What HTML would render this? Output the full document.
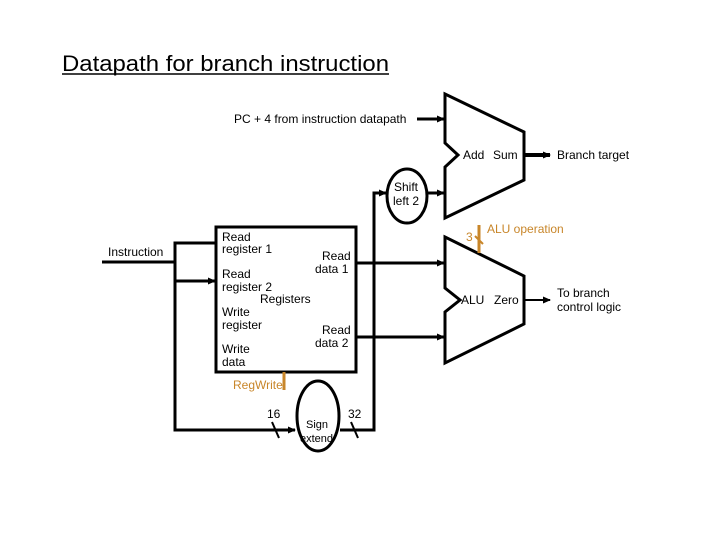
<!DOCTYPE html>
<html><head><style>body{margin:0;background:#fff}svg{display:block}text{font-family:"Liberation Sans",sans-serif;font-size:12px;fill:#000}.o{fill:#c8862a}</style></head><body>
<svg width="720" height="540" viewBox="0 0 720 540">
<defs><marker id="a" markerWidth="8" markerHeight="8" refX="7" refY="4" orient="auto" markerUnits="userSpaceOnUse"><path d="M0,0.5L8,4L0,7.5z" fill="#000"/></marker></defs>
<text x="62" y="71" style="font-size:22px" textLength="327" lengthAdjust="spacingAndGlyphs">Datapath for branch instruction</text>
<line x1="62" y1="74" x2="389" y2="74" stroke="#000" stroke-width="1.5"/>
<text x="234" y="123">PC + 4 from instruction datapath</text>
<g stroke="#000" stroke-width="3" fill="none">
<line x1="417" y1="119" x2="444" y2="119" marker-end="url(#a)"/>
<polygon points="445,94 524,132 524,180 445,218 445,167 458,155 445,143" fill="#fff"/>
<polygon points="445,237 524,276 524,324 445,363 445,312 460,300 445,288" fill="#fff"/>
<line x1="524" y1="155" x2="550" y2="155" stroke-width="4" marker-end="url(#a)"/>
<line x1="524" y1="300" x2="550" y2="300" stroke-width="2" marker-end="url(#a)"/>
<rect x="216" y="227" width="140" height="145" fill="#fff"/>
<line x1="102" y1="262" x2="175" y2="262"/>
<polyline points="215,243 175,243 175,430 295,430" marker-end="url(#a)"/>
<line x1="175" y1="281" x2="215" y2="281" marker-end="url(#a)"/>
<line x1="356" y1="263" x2="444" y2="263" marker-end="url(#a)"/>
<line x1="356" y1="337" x2="444" y2="337" marker-end="url(#a)"/>
<polyline points="340,430 374,430 374,193 386,193" marker-end="url(#a)"/>
<line x1="427" y1="193" x2="444" y2="193" marker-end="url(#a)"/>
<ellipse cx="407" cy="196" rx="20" ry="27" fill="#fff"/>
<ellipse cx="318" cy="416" rx="21" ry="35" fill="#fff"/>
<line x1="272" y1="422" x2="279" y2="438" stroke-width="2"/>
<line x1="351" y1="422" x2="358" y2="438" stroke-width="2"/>
</g>
<g stroke="#c8862a" stroke-width="3"><line x1="479" y1="225" x2="479" y2="253"/><line x1="284" y1="372" x2="284" y2="390"/><line x1="475" y1="236" x2="483" y2="244" stroke-width="2"/></g>
<text x="463" y="159">Add</text><text x="493" y="159">Sum</text>
<text x="557" y="159">Branch target</text>
<text x="394" y="191">Shift</text><text x="393" y="205">left 2</text>
<text x="466" y="241" class="o">3</text><text x="487" y="233" class="o">ALU operation</text>
<text x="461" y="304">ALU</text><text x="494" y="304">Zero</text>
<text x="557" y="297">To branch</text><text x="557" y="311">control logic</text>
<text x="108" y="256">Instruction</text>
<text x="222" y="241">Read</text><text x="222" y="253">register 1</text>
<text x="222" y="278">Read</text><text x="222" y="291">register 2</text>
<text x="260" y="303">Registers</text>
<text x="222" y="316">Write</text><text x="222" y="329">register</text>
<text x="222" y="353">Write</text><text x="222" y="366">data</text>
<text x="322" y="260">Read</text><text x="315" y="273">data 1</text>
<text x="322" y="334">Read</text><text x="315" y="347">data 2</text>
<text x="233" y="389" class="o">RegWrite</text>
<text x="267" y="418">16</text><text x="348" y="418">32</text>
<text x="306" y="428" style="font-size:11px">Sign</text><text x="300" y="442" style="font-size:11px">extend</text>
</svg></body></html>
